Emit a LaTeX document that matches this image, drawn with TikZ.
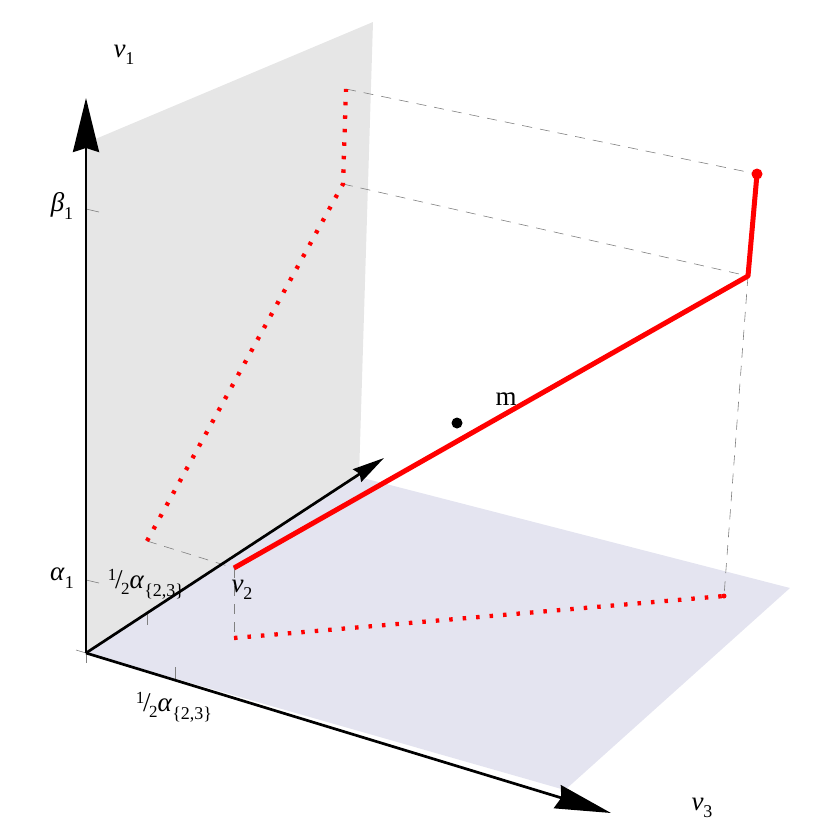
\documentclass[tikz,border=0pt]{standalone}
\usepackage{fontspec}
\setmainfont{Liberation Serif}
\usetikzlibrary{arrows.meta}
\newcommand{\lsub}[1]{\raisebox{-0.28em}{\fontsize{18}{20}\selectfont #1}}
\newcommand{\lhalf}{\raisebox{0.32em}{\fontsize{17}{20}\selectfont 1}\kern-0.05em/\kern-0.05em\raisebox{-0.22em}{\fontsize{17}{20}\selectfont 2}}
\begin{document}
\begin{tikzpicture}[x=1pt,y=-1pt,
  lbl/.style={font=\fontsize{27}{30}\selectfont, inner sep=0pt},
  axis/.style={black, line width=2.7pt},
  proj/.style={gray, line width=0.6pt, dash pattern=on 10pt off 8pt},
  tick/.style={gray, line width=0.6pt},
  redsolid/.style={red, line width=5pt, line join=round},
  reddot/.style={red, line width=4.3pt, dash pattern=on 3.5pt off 10pt},
]
\useasboundingbox (0,0) rectangle (830,830);
% key points
\coordinate (O) at (86,653);
\coordinate (V1tip) at (86,98);
\coordinate (V2tip) at (384,458);
\coordinate (V3tip) at (611,813);
\coordinate (G1) at (86,143);
\coordinate (G2) at (373,22);
\coordinate (G3) at (359,477);
\coordinate (L2) at (790,588);
\coordinate (L3) at (565,790);
\coordinate (P0) at (234,568);
\coordinate (P1) at (748,276);
\coordinate (P2) at (757,174);
\coordinate (Q0) at (147,541);
\coordinate (Q1) at (343,184);
\coordinate (Q2) at (346,89);
\coordinate (R0) at (234,638);
\coordinate (R1) at (724,596);
% planes
\fill[fill={rgb,255:red,230;green,230;blue,230}] (O) -- (G1) -- (G2) -- (G3) -- cycle;
\fill[fill={rgb,255:red,228;green,228;blue,240}] (O) -- (G3) -- (L2) -- (L3) -- cycle;
% projection lines
\draw[proj] (Q0) -- (P0);
\draw[proj] (P0) -- (R0);
\draw[proj] (Q1) -- (P1);
\draw[proj] (Q2) -- (P2);
\draw[proj] (P1) -- (R1);
% ticks
\coordinate (tb1) at (86,209); \coordinate (tb1e) at (99,212);
\coordinate (ta1) at (86,580); \coordinate (ta1e) at (99,583);
\coordinate (tv2) at (147,614); \coordinate (tv2e) at (147,625);
\coordinate (tv3) at (175,667); \coordinate (tv3e) at (175,680);
\draw[tick] (tb1) -- (tb1e);
\draw[tick] (ta1) -- (ta1e);
\draw[tick] (tv2) -- (tv2e);
\draw[tick] (tv3) -- (tv3e);
\coordinate (oa) at (76,650); \coordinate (ob) at (96,656);
\coordinate (od) at (86,663);
\draw[tick] (oa) -- (ob);
\draw[tick] (O) -- (od);
% axes
\draw[axis, -{Stealth[length=54pt,width=26pt,inset=4pt]}] (O) -- (V1tip);
\draw[axis, -{Stealth[length=32pt,width=15pt,inset=3pt]}] (O) -- (V2tip);
\draw[axis, -{Stealth[length=56pt,width=24pt,inset=4pt]}] (O) -- (V3tip);
% red projections
\draw[reddot] (Q0) -- (Q1) -- (Q2);
\draw[reddot] (R0) -- (R1);
\fill[red] (R1) circle (2.5pt);
% red path
\draw[redsolid] (P0) -- (P1) -- (P2);
\fill[red] (P2) circle (5.5pt);
% point m
\node[circle, fill=black, inner sep=0pt, minimum size=11pt] (mdot) at (457,423) {};
\node[lbl] (mlabel) at (506,399) {m};
% labels
\node[lbl] (lv1) at (124,55) {\textit{v}\lsub{1}};
\node[lbl] (lb1) at (62,206) {\textit{β}\lsub{1}};
\node[lbl] (la1) at (62,578) {\textit{α}\lsub{1}};
\node[lbl] (lh1) at (146,584) {\lhalf\textit{α}\lsub{\{2,3\}}};
\node[lbl] (lh2) at (174,707) {\lhalf\textit{α}\lsub{\{2,3\}}};
\node[lbl] (lv2) at (242,590) {\textit{v}\lsub{2}};
\node[lbl] (lv3) at (702,808) {\textit{v}\lsub{3}};
\end{tikzpicture}
\end{document}
